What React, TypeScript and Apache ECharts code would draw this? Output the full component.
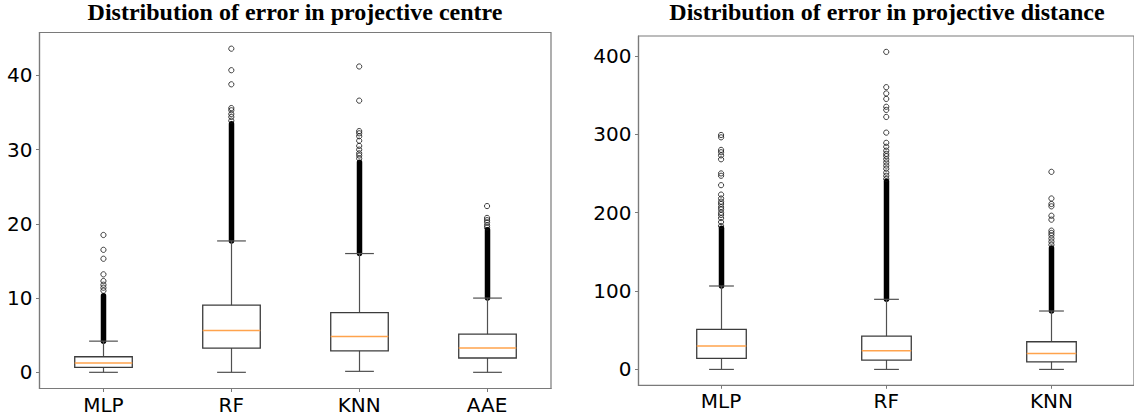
import React, { useEffect, useRef } from "react";
import * as echarts from "echarts";

// ---------- data: left chart (projective centre) ----------
const centreCategories = ["MLP", "RF", "KNN", "AAE"];
const centreLow = [0, 0, 0.13, 0];
const centreQ1 = [0.67, 3.27, 2.9, 1.93];
const centreMedian = [1.26, 5.64, 4.83, 3.27];
const centreQ3 = [2.1, 9.05, 8.05, 5.15];
const centreHigh = [4.2, 17.7, 16.0, 10.0];
const centreDenseTop = [10.3, 33.5, 28.3, 19.2];
const centreOutliersMLP = [11.0, 11.4, 11.8, 12.3, 13.2, 15.3, 16.5, 18.5];
const centreOutliersRF = [33.9, 34.4, 34.8, 35.3, 35.6, 38.8, 40.7, 43.6];
const centreOutliersKNN = [28.8, 29.2, 29.5, 30.0, 30.5, 31.2, 31.8, 32.2, 32.5, 36.6, 41.2];
const centreOutliersAAE = [19.5, 19.8, 20.2, 20.5, 20.8, 22.4];
const centreTicks = [0, 10, 20, 30, 40];
const centreMin = -2.18;
const centreMax = 45.78;

// ---------- data: right chart (projective distance) ----------
const distCategories = ["MLP", "RF", "KNN"];
const distLow = [0, 0, 0];
const distQ1 = [14.0, 11.9, 9.7];
const distMedian = [29.8, 23.8, 20.4];
const distQ3 = [51.1, 42.5, 35.3];
const distHigh = [106.4, 89.4, 74.5];
const distDenseTop = [180, 240, 155];
const distOutliersMLP = [183, 188, 193, 197, 200, 204, 207, 211, 214, 218, 223, 235, 247, 250, 268, 273, 277, 280, 296, 299];
const distOutliersRF = [243, 247, 251, 256, 260, 264, 268, 272, 275, 279, 284, 289, 302, 322, 331, 335, 345, 352, 360, 405];
const distOutliersKNN = [159, 163, 167, 171, 174, 177, 191, 196, 208, 211, 218, 252];
const distTicks = [0, 100, 200, 300, 400];
const distMin = -20.25;
const distMax = 425.25;

const titleLeft = "Distribution of error in projective centre";
const titleRight = "Distribution of error in projective distance";

// ---------- styles ----------
const FRAME = "#7a7a7a";
const BOX = "#3c3c3c";
const WHISK = "#505050";
const MEDIAN = "#ffa34d";
const TICK_FONT = "DejaVu Sans";

function boxRows(low: number[], q1: number[], med: number[], q3: number[], high: number[]) {
  return low.map((_, i) => [i, low[i], q1[i], med[i], q3[i], high[i]]);
}
function denseRows(high: number[], top: number[]) {
  return high.map((_, i) => [i, high[i], top[i]]);
}
function outlierRows(groups: number[][]) {
  const rows: number[][] = [];
  groups.forEach((g, i) => g.forEach((v) => rows.push([i, v])));
  return rows;
}

function makeBoxRender(widthFrac: number) {
  return (params: any, api: any) => {
    const x = api.value(0);
    const lo = api.coord([x, api.value(1)]);
    const q1 = api.coord([x, api.value(2)]);
    const md = api.coord([x, api.value(3)]);
    const q3 = api.coord([x, api.value(4)]);
    const hi = api.coord([x, api.value(5)]);
    const band = api.size([1, 0])[0];
    const w = band * widthFrac;
    const cx = Math.round(lo[0]) + 0.5;
    const half = w / 2;
    const capHalf = w / 4;
    const ws = { stroke: WHISK, lineWidth: 1.2 };
    return {
      type: "group",
      children: [
        { type: "line", shape: { x1: cx, y1: lo[1], x2: cx, y2: q1[1] }, style: ws },
        { type: "line", shape: { x1: cx, y1: q3[1], x2: cx, y2: hi[1] }, style: ws },
        { type: "line", shape: { x1: cx - capHalf, y1: lo[1], x2: cx + capHalf, y2: lo[1] }, style: ws },
        { type: "line", shape: { x1: cx - capHalf, y1: hi[1], x2: cx + capHalf, y2: hi[1] }, style: ws },
        {
          type: "rect",
          shape: { x: cx - half, y: q3[1], width: w, height: q1[1] - q3[1] },
          style: { fill: "rgba(255,255,255,0)", stroke: BOX, lineWidth: 1.3 },
        },
        { type: "line", shape: { x1: cx - half, y1: md[1], x2: cx + half, y2: md[1] }, style: { stroke: MEDIAN, lineWidth: 1.4 } },
      ],
    };
  };
}

function denseRender(params: any, api: any) {
  const x = api.value(0);
  const lo = api.coord([x, api.value(1)]);
  const hi = api.coord([x, api.value(2)]);
  const cx = Math.round(lo[0]) + 0.5;
  const bw = 5.5;
  return {
    type: "rect",
    shape: { x: cx - bw / 2, y: hi[1] - bw / 2, width: bw, height: lo[1] - hi[1] + bw, r: bw / 2 },
    style: { fill: "#000" },
  };
}

function xAxisOf(cats: string[], gridIndex: number) {
  return {
    type: "category",
    gridIndex,
    data: cats,
    boundaryGap: true,
    axisLine: { show: true, onZero: false, lineStyle: { color: FRAME, width: 1.2 } },
    axisTick: { show: true, alignWithLabel: true, length: 3.5, lineStyle: { color: FRAME } },
    axisLabel: { fontFamily: TICK_FONT, fontSize: 20, color: "#000", margin: 6 },
    splitLine: { show: false },
  };
}
function yAxisOf(min: number, max: number, ticks: number[], gridIndex: number) {
  return {
    type: "value",
    gridIndex,
    min,
    max,
    axisLine: { show: true, onZero: false, lineStyle: { color: FRAME, width: 1.2 } },
    axisTick: { show: true, length: 3.5, customValues: ticks, lineStyle: { color: FRAME } },
    axisLabel: { fontFamily: TICK_FONT, fontSize: 20, color: "#000", margin: 7, customValues: ticks },
    splitLine: { show: false },
  };
}

export default function App() {
  const ref = useRef<HTMLDivElement>(null);
  useEffect(() => {
    if (!ref.current) return;
    const chart = echarts.init(ref.current, undefined, { renderer: "svg" });
    const outlierStyle = { color: "rgba(0,0,0,0)", borderColor: "#111", borderWidth: 1 };
    chart.setOption({
      animation: false,
      backgroundColor: "#fff",
      grid: [
        { left: 39.5, top: 32.5, width: 511.5, height: 356, show: true, borderColor: FRAME, borderWidth: 1.2, backgroundColor: "transparent" },
        { left: 638.5, top: 36, width: 499, height: 349.3, show: true, borderColor: FRAME, borderWidth: 1.2, backgroundColor: "transparent" },
      ],
      xAxis: [xAxisOf(centreCategories, 0), xAxisOf(distCategories, 1)],
      yAxis: [yAxisOf(centreMin, centreMax, centreTicks, 0), yAxisOf(distMin, distMax, distTicks, 1)],
      graphic: [
        {
          type: "text",
          x: 295,
          y: 11.5,
          style: { text: titleLeft, fontFamily: "Liberation Serif", fontWeight: "bold", fontSize: 24, fill: "#000", textAlign: "center", textVerticalAlign: "middle" },
        },
        {
          type: "text",
          x: 887,
          y: 11.5,
          style: { text: titleRight, fontFamily: "Liberation Serif", fontWeight: "bold", fontSize: 24, fill: "#000", textAlign: "center", textVerticalAlign: "middle" },
        },
      ],
      series: [
        {
          type: "custom",
          xAxisIndex: 0,
          yAxisIndex: 0,
          renderItem: denseRender,
          data: denseRows(centreHigh, centreDenseTop),
          z: 3,
        },
        {
          type: "scatter",
          xAxisIndex: 0,
          yAxisIndex: 0,
          symbol: "circle",
          symbolSize: 5.2,
          itemStyle: outlierStyle,
          data: outlierRows([centreOutliersMLP, centreOutliersRF, centreOutliersKNN, centreOutliersAAE]),
          z: 4,
        },
        {
          type: "custom",
          xAxisIndex: 0,
          yAxisIndex: 0,
          renderItem: makeBoxRender(0.45),
          data: boxRows(centreLow, centreQ1, centreMedian, centreQ3, centreHigh),
          z: 5,
        },
        {
          type: "custom",
          xAxisIndex: 1,
          yAxisIndex: 1,
          renderItem: denseRender,
          data: denseRows(distHigh, distDenseTop),
          z: 3,
        },
        {
          type: "scatter",
          xAxisIndex: 1,
          yAxisIndex: 1,
          symbol: "circle",
          symbolSize: 5.2,
          itemStyle: outlierStyle,
          data: outlierRows([distOutliersMLP, distOutliersRF, distOutliersKNN]),
          z: 4,
        },
        {
          type: "custom",
          xAxisIndex: 1,
          yAxisIndex: 1,
          renderItem: makeBoxRender(0.3),
          data: boxRows(distLow, distQ1, distMedian, distQ3, distHigh),
          z: 5,
        },
      ],
    });
    return () => chart.dispose();
  }, []);
  return <div ref={ref} style={{ position: "fixed", left: 0, top: 0, width: 1134, height: 416 }} />;
}
